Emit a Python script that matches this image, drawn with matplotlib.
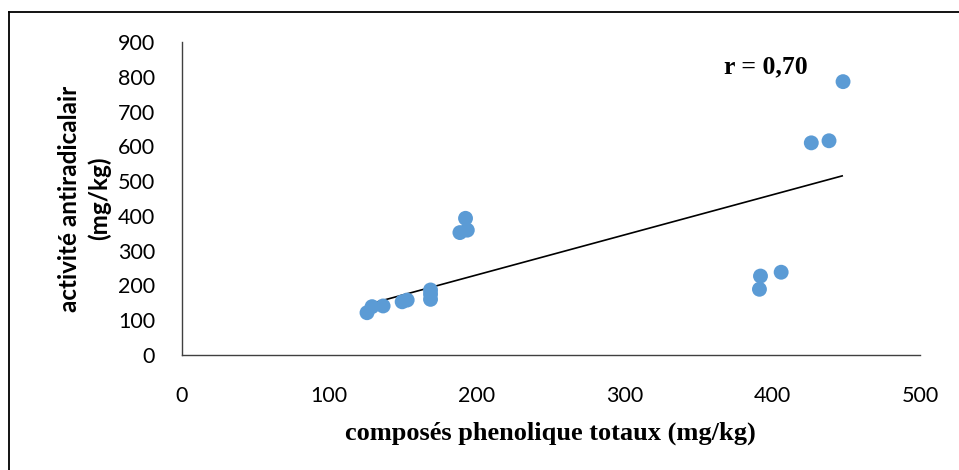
import numpy as np
import matplotlib.pyplot as plt
from matplotlib.lines import Line2D

# values
phenols = [125.6, 129, 136.5, 149.4, 152.8, 168.6, 168.6, 168.6, 188.5, 193.5, 192.3,
           392.0, 391.3, 406.0, 426.4, 438.4, 447.9]
activity = [121.6, 139, 141, 153, 158, 160, 175, 187, 352, 359, 393,
            227, 189, 238, 610, 616, 786]
# linear trend line as drawn in the reference (end points)
trend_x = [126.7, 447.3]
trend_y = [146, 515]
r_label = 'r = 0,70'

fig = plt.figure(figsize=(9.59, 4.70), dpi=100)
ax = fig.add_axes([181.5 / 959, 1 - 355 / 470, (920 - 181.5) / 959, (355 - 42) / 470])

ax.scatter(phenols, activity, s=115, color='#5B9BD5', edgecolors='none', zorder=3)
ax.plot(trend_x, trend_y, color='black', lw=1.2, zorder=2)

ax.set_xlim(0, 500)
ax.set_ylim(0, 900)
ax.set_xticks(range(0, 501, 100))
ax.set_yticks(range(0, 901, 100))
for s in ['top', 'right']:
    ax.spines[s].set_visible(False)
for s in ['left', 'bottom']:
    ax.spines[s].set_color('#404040')
    ax.spines[s].set_linewidth(1.0)
ax.tick_params(axis='both', length=0, labelsize=15.5)
ax.tick_params(axis='y', pad=19)
ax.tick_params(axis='x', pad=22)
for lab in ax.get_xticklabels() + ax.get_yticklabels():
    lab.set_fontfamily('Lato')

ax.set_xlabel('composés phenolique totaux (mg/kg)', fontfamily='Liberation Serif',
              fontweight='bold', fontsize=19)
ax.xaxis.set_label_coords(0.5, -0.213)
ax.set_ylabel('activité antiradicalair\n(mg/kg)', fontfamily='Lato',
              fontweight='bold', fontsize=17.5, linespacing=1.35)
ax.yaxis.set_label_coords(-0.095, 0.5)

ax.text(367, 828, r_label, fontfamily='Liberation Serif', fontweight='bold',
        fontsize=18.5, ha='left', va='center')

# partial frame around the figure (left and top edges)
fig.add_artist(Line2D([9 / 959, 9 / 959], [0, 1 - 12 / 470], color='black', lw=1.3))
fig.add_artist(Line2D([9 / 959, 1], [1 - 12 / 470, 1 - 12 / 470], color='black', lw=1.3))

fig.savefig('out.png', dpi=100)
